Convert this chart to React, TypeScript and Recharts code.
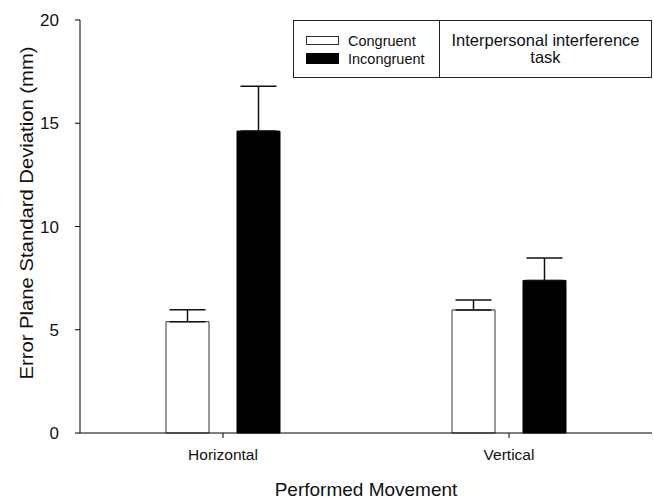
import { BarChart, Bar, XAxis, YAxis, ErrorBar, Legend } from "recharts";

const movements = ["Horizontal", "Vertical"];
const congruent = [5.39, 5.96];
const congruentErr = [0.58, 0.48];
const incongruent = [14.62, 7.39];
const incongruentErr = [2.17, 1.08];
const yTicks = [0, 5, 10, 15, 20];

const data = movements.map((m, i) => ({
  movement: m,
  congruent: congruent[i],
  congruentErr: [0, congruentErr[i]],
  incongruent: incongruent[i],
  incongruentErr: [0, incongruentErr[i]],
}));

const font = "'Liberation Sans', Arial, sans-serif";

function LegendBox() {
  return (
    <div
      style={{
        display: "flex",
        width: 359,
        height: 58,
        border: "1px solid #222",
        boxSizing: "border-box",
        background: "#fff",
        fontFamily: font,
        color: "#111",
      }}
    >
      <div style={{ width: 145, borderRight: "1px solid #222", position: "relative" }}>
        <div style={{ position: "absolute", left: 12, top: 15, width: 33, height: 9, border: "1px solid #333", boxSizing: "border-box" }} />
        <div style={{ position: "absolute", left: 54, top: 12, fontSize: 14.5, lineHeight: "16px" }}>Congruent</div>
        <div style={{ position: "absolute", left: 12, top: 32, width: 33, height: 11, background: "#000" }} />
        <div style={{ position: "absolute", left: 54, top: 30, fontSize: 14.5, lineHeight: "16px" }}>Incongruent</div>
      </div>
      <div style={{ flex: 1, textAlign: "center", fontSize: 16.5, lineHeight: "16.5px", paddingTop: 11 }}>
        Interpersonal interference
        <br />
        task
      </div>
    </div>
  );
}

export default function App() {
  return (
    <div style={{ position: "absolute", left: 0, top: 0, background: "#fff", fontFamily: font }}>
      <BarChart
        width={654}
        height={500}
        data={data}
        margin={{ top: 20, right: 2, left: 0, bottom: 0 }}
        barSize={43}
        barGap={28}
      >
        <XAxis
          dataKey="movement"
          height={67}
          stroke="#000"
          tickSize={5}
          tickMargin={11}
          tick={{ fill: "#111", fontSize: 15.5 }}
          label={{
            value: "Performed Movement",
            content: ({ viewBox }: any) => (
              <text
                x={viewBox.x + viewBox.width / 2}
                y={viewBox.y + 63}
                textAnchor="middle"
                fontSize={19}
                fill="#111"
              >
                Performed Movement
              </text>
            ),
          }}
        />
        <XAxis xAxisId="top" orientation="top" dataKey="movement" height={0} tick={false} tickLine={false} stroke="#000" />
        <YAxis
          domain={[0, 20]}
          ticks={yTicks}
          width={80}
          stroke="#000"
          tickSize={5}
          tickMargin={16}
          tick={{ fill: "#111", fontSize: 17 }}
          label={{
            value: "Error Plane Standard Deviation (mm)",
            content: () => (
              <text
                x={33}
                y={213}
                transform="rotate(-90, 33, 213)"
                textAnchor="middle"
                fontSize={19}
                textLength={333}
                lengthAdjust="spacingAndGlyphs"
                fill="#111"
              >
                Error Plane Standard Deviation (mm)
              </text>
            ),
          }}
        />
        <YAxis yAxisId="right" orientation="right" domain={[0, 20]} width={0} tick={false} tickLine={false} stroke="#555" />
        <Legend
          layout="horizontal"
          verticalAlign="middle"
          align="center"
          content={() => <LegendBox />}
          wrapperStyle={{ position: "absolute", left: 293, top: 20, width: 359, height: 58, margin: 0 }}
        />
        <Bar dataKey="congruent" name="Congruent" fill="#fff" stroke="#333" strokeWidth={1} isAnimationActive={false}>
          <ErrorBar dataKey="congruentErr" width={18} stroke="#111" strokeWidth={1.5} isAnimationActive={false} />
        </Bar>
        <Bar dataKey="incongruent" name="Incongruent" fill="#000" stroke="#000" strokeWidth={1} isAnimationActive={false}>
          <ErrorBar dataKey="incongruentErr" width={18} stroke="#111" strokeWidth={1.5} isAnimationActive={false} />
        </Bar>
      </BarChart>
    </div>
  );
}
